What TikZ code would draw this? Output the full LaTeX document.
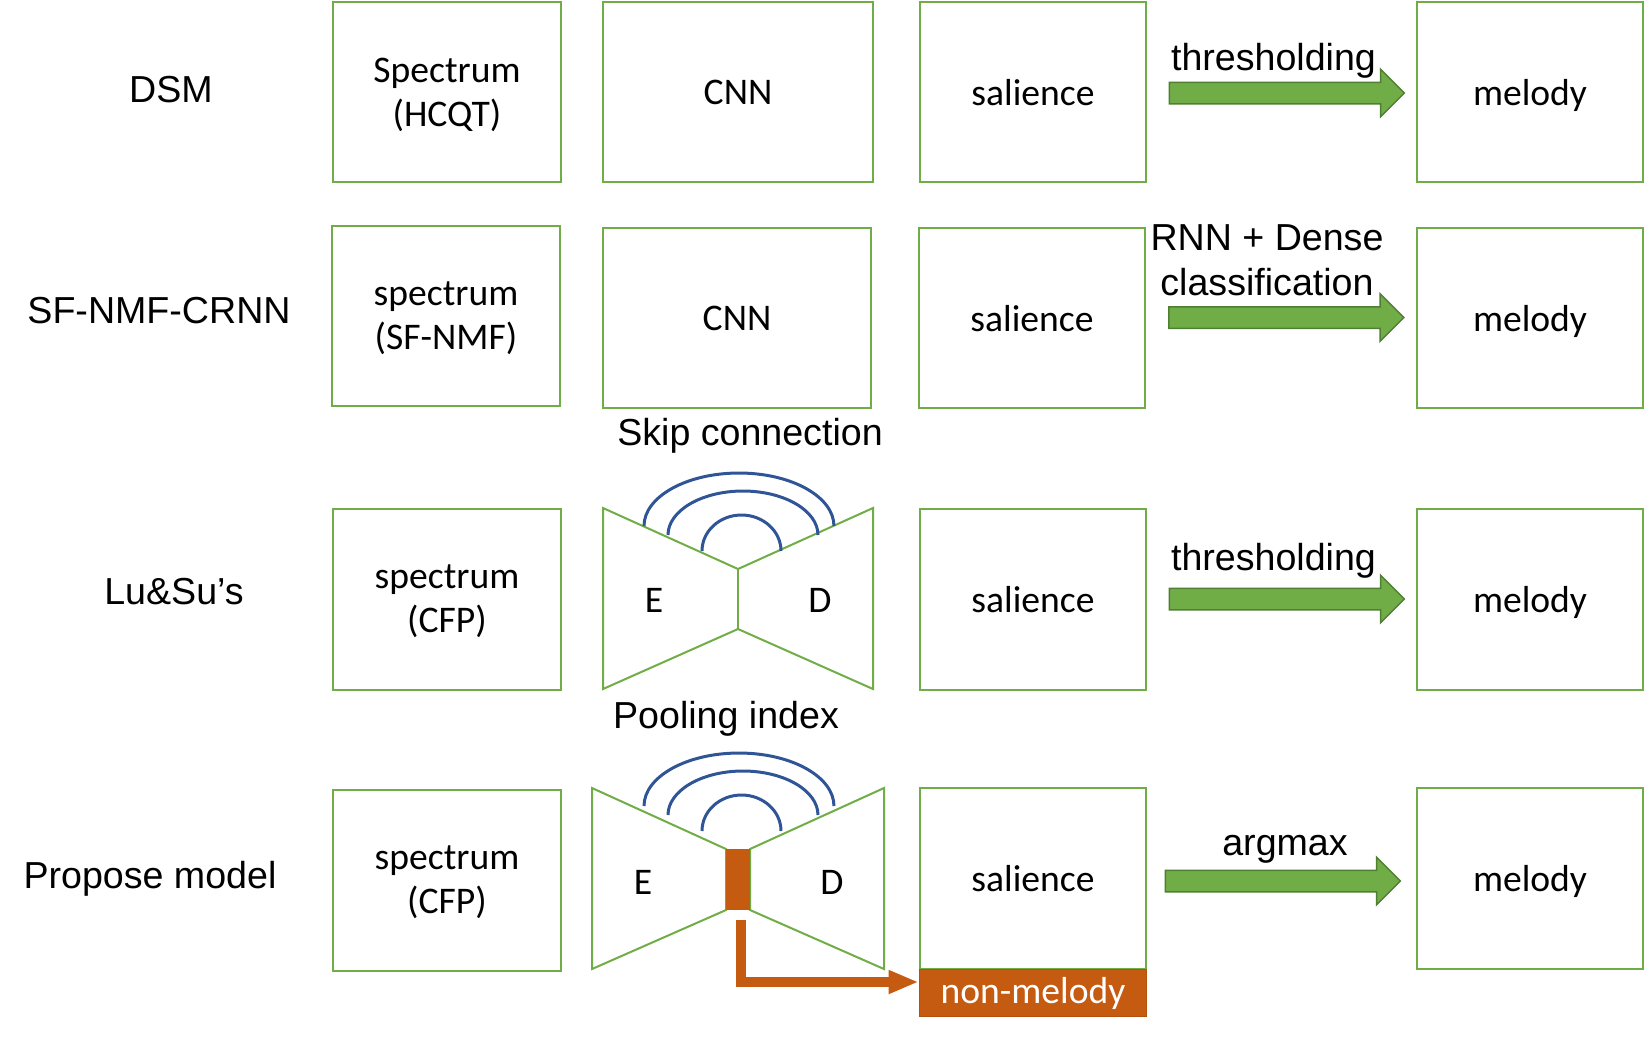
\documentclass[tikz,border=0pt]{standalone}
\usepackage{fontspec}
\setmainfont{Liberation Sans}
\newfontfamily\boxfont{Carlito}
\usetikzlibrary{
  shapes.arrows,
  arrows.meta,
  positioning,
  calc
}
\definecolor{pptgreen}{HTML}{70AD47}
\definecolor{pptgreendk}{HTML}{507E32}
\definecolor{pptorange}{HTML}{C55A11}
\definecolor{pptblue}{HTML}{2F5597}

\begin{document}
\begin{tikzpicture}[
    x=0.02cm, y=-0.02cm,
    font=\fontsize{21.4}{25.6}\selectfont,
    box/.style={
      rectangle, draw=pptgreen, line width=0.04cm,
      minimum height=3.62cm, align=center, text depth=0pt,
      font=\boxfont\fontsize{21.4}{25}\selectfont
    },
    lbl/.style={inner sep=0pt},
    half/.style={inner sep=0pt, font=\boxfont\fontsize{21.4}{25}\selectfont},
    fatarr/.style={
      single arrow, fill=pptgreen, draw=pptgreendk, line width=0.03cm,
      minimum width=0.92cm, minimum height=4.7cm,
      single arrow head extend=0.26cm, inner xsep=0pt, inner ysep=0.2cm
    },
    tie/.style={draw=pptgreen, line width=0.04cm, line join=miter},
    skip/.style={draw=pptblue, line width=0.06cm},
    orarr/.style={draw=pptorange, line width=0.2cm,
      -{Triangle[length=0.6cm, width=0.44cm]}},
  ]
  \useasboundingbox (0,0) rectangle (1645,1039);

  %% ── DSM ───────────────────────────────────────────────────
  \node[lbl] (dsm) at (171,90) {DSM};
  \node[box, minimum width=4.57cm] (spec1) at (447,92)  {Spectrum\\(HCQT)};
  \node[box, minimum width=5.39cm] (cnn1)  at (738,92)  {CNN};
  \node[box, minimum width=4.53cm] (sal1)  at (1033,92) {salience};
  \node[box, minimum width=4.51cm] (mel1)  at (1530,92) {melody};
  \node[fatarr] (thr1) at (1281.5,93) {};
  \node[lbl, anchor=base] (thr1txt) at (1273.5,70) {thresholding};

  %% ── SF-NMF-CRNN ───────────────────────────────────────────
  \node[lbl] (sfnmf) at (159,311) {SF-NMF-CRNN};
  \node[box, minimum width=4.55cm] (spec2) at (446,316)  {spectrum\\(SF-NMF)};
  \node[box, minimum width=5.37cm] (cnn2)  at (737,318)  {CNN};
  \node[box, minimum width=4.53cm] (sal2)  at (1032,318) {salience};
  \node[box, minimum width=4.51cm] (mel2)  at (1530,318) {melody};
  \node[fatarr] (cls2) at (1281,317.5) {};
  \node[lbl, align=center] (cls2txt) at (1267,260) {RNN + Dense\\classification};

  %% ── Lu&Su's ───────────────────────────────────────────────
  \node[lbl] (lusu) at (174,592) {Lu\&Su’s};
  \node[box, minimum width=4.57cm] (spec3) at (447,599)  {spectrum\\(CFP)};
  \node[box, minimum width=4.53cm] (sal3)  at (1033,599) {salience};
  \node[box, minimum width=4.51cm] (mel3)  at (1530,599) {melody};
  \draw[tie] (603,508) -- (738,569) -- (873,508) -- (873,689)
             -- (738,629) -- (603,689) -- cycle;
  \draw[tie] (738,569) -- (738,629);
  \node[half] (enc3) at (654,600) {E};
  \node[half] (dec3) at (820,600) {D};
  \node[lbl, anchor=base] (skiptxt) at (750,445) {Skip connection};
  \node[fatarr] (thr3) at (1281.5,599) {};
  \node[lbl, anchor=base] (thr3txt) at (1273.5,570) {thresholding};

  %% ── Propose model ─────────────────────────────────────────
  \node[lbl] (prop) at (150,879) {Propose model};
  \node[box, minimum width=4.57cm] (spec4) at (447,880)  {spectrum\\(CFP)};
  \node[box, minimum width=4.53cm] (sal4)  at (1033,878) {salience};
  \node[box, minimum width=4.51cm] (mel4)  at (1530,878) {melody};
  \draw[tie] (592,788) -- (726,849) -- (726,910) -- (592,969) -- cycle;
  \draw[tie] (884,788) -- (750,849) -- (750,910) -- (884,969) -- cycle;
  \node[fill=pptorange, inner sep=0pt, minimum width=0.48cm,
        minimum height=1.22cm] (neck) at (738,879.5) {};
  \node[half] (enc4) at (643,882) {E};
  \node[half] (dec4) at (832,882) {D};
  \node[lbl, anchor=base] (pooltxt) at (726,728) {Pooling index};
  \node[fatarr] (arg4) at (1277.5,881) {};
  \node[lbl, anchor=base] (arg4txt) at (1285,855) {argmax};
  \node[fill=pptorange, draw=pptorange!90!black, line width=0.02cm,
        minimum width=4.56cm, minimum height=0.95cm, text=white,
        font=\boxfont\fontsize{21.4}{25}\selectfont] (nonmel) at (1033,993) {non-melody};
  \draw[orarr] ($(neck.south)+(3,10)$) |- ($(nonmel.west)+(0,-11)$);

  %% ── skip arcs ─────────────────────────────────────────────
  \foreach \dy in {0,280} {
    \draw[skip] (644,526+\dy) arc[start angle=180, end angle=0, x radius=1.9cm, y radius=1.06cm];
    \draw[skip] (668,535+\dy) arc[start angle=180, end angle=0, x radius=1.5cm, y radius=0.88cm];
    \draw[skip] (702,551+\dy) arc[start angle=180, end angle=0, x radius=0.79cm, y radius=0.72cm];
  }

\end{tikzpicture}
\end{document}
